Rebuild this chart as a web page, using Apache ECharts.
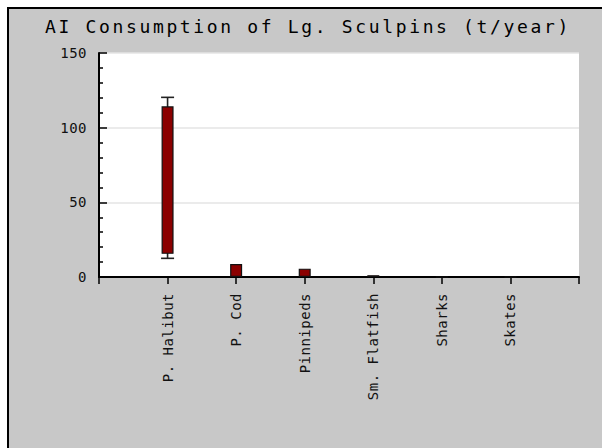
<!DOCTYPE html>
<html>
<head>
<meta charset="utf-8">
<script src="https://cdn.jsdelivr.net/npm/echarts@6/dist/echarts.min.js"></script>
<style>
html,body{margin:0;padding:0;background:#fff;}
#c{width:602px;height:448px;}
</style>
</head>
<body>
<div id="c"></div>
<script>
var titleText = 'AI Consumption of Lg. Sculpins (t/year)';
var categories = ['', 'P. Halibut', 'P. Cod', 'Pinnipeds', 'Sm. Flatfish', 'Sharks', 'Skates', ''];
var boxLow = [null, 15.5, 0, 0, 0, 0, 0, null];
var boxHigh = [null, 114.3, 8.7, 5.6, 1.2, 0, 0, null];
var whiskerLow = [null, 12.5, null, null, null, null, null, null];
var whiskerHigh = [null, 120.3, null, null, null, null, null, null];
var yTicks = [0, 50, 100, 150];

var boxSize = boxHigh.map(function (h, i) { return h == null ? null : +(h - boxLow[i]).toFixed(2); });
var whiskerData = whiskerLow.map(function (l, i) { return [i, l, whiskerHigh[i]]; }).filter(function (d) { return d[1] != null; });

var chart = echarts.init(document.getElementById('c'), null, {renderer: 'svg'});
var FONT = 'DejaVu Sans Mono';
chart.setOption({
  animation: false,
  backgroundColor: '#ffffff',
  graphic: [{
    type: 'rect', z: -100, silent: true,
    shape: {x: 8, y: 8, width: 640, height: 480},
    style: {fill: '#c8c8c8', stroke: '#000', lineWidth: 2}
  }],
  title: {
    text: titleText, left: 40, top: 12,
    textStyle: {fontFamily: FONT, fontSize: 18, fontWeight: 'normal', color: '#000'}
  },
  grid: {left: 99, right: 23, top: 53, bottom: 171, show: true, backgroundColor: '#fff', borderWidth: 0},
  xAxis: {
    type: 'category', data: categories, boundaryGap: false,
    axisLine: {lineStyle: {color: '#000', width: 2}},
    axisTick: {show: true, length: 7, interval: 0, lineStyle: {color: '#000', width: 1.5}},
    axisLabel: {interval: 0, rotate: 90, margin: 16, fontFamily: FONT, fontSize: 14, color: '#111'},
    splitLine: {show: false}
  },
  yAxis: {
    type: 'value', min: yTicks[0], max: yTicks[yTicks.length - 1], interval: 50,
    axisLine: {show: true, lineStyle: {color: '#000', width: 2}},
    axisTick: {show: true, inside: true, length: 8, lineStyle: {color: '#000', width: 1.5}},
    minorTick: {show: true, splitNumber: 5, length: 4, lineStyle: {color: '#000', width: 1.5}},
    axisLabel: {margin: 12, fontFamily: FONT, fontSize: 14, color: '#111'},
    splitLine: {show: true, lineStyle: {color: '#e4e4e4', width: 1.5}}
  },
  series: [
    {
      type: 'custom', z: 1,
      renderItem: function (params, api) {
        var x = api.value(0);
        var lo = api.coord([x, api.value(1)]);
        var hi = api.coord([x, api.value(2)]);
        var hw = 6.5;
        var st = {stroke: '#222', lineWidth: 1.6, fill: null};
        return {type: 'group', children: [
          {type: 'line', shape: {x1: lo[0], y1: lo[1], x2: hi[0], y2: hi[1]}, style: st},
          {type: 'line', shape: {x1: lo[0] - hw, y1: lo[1], x2: lo[0] + hw, y2: lo[1]}, style: st},
          {type: 'line', shape: {x1: hi[0] - hw, y1: hi[1], x2: hi[0] + hw, y2: hi[1]}, style: st}
        ]};
      },
      encode: {x: 0, y: [1, 2]},
      data: whiskerData
    },
    {
      type: 'bar', stack: 'box', z: 2, barWidth: 12,
      itemStyle: {color: 'rgba(0,0,0,0)', borderWidth: 0},
      data: boxLow
    },
    {
      type: 'bar', stack: 'box', z: 3, barWidth: 12,
      itemStyle: {color: '#8b0000', borderColor: '#111', borderWidth: 1.2},
      data: boxSize
    }
  ]
});
function spacing() {
  var ts = document.querySelectorAll('#c text');
  ts.forEach(function (t) {
    var fs = parseFloat(getComputedStyle(t).fontSize);
    if (fs >= 16) t.style.letterSpacing = '2.65px';
    else t.style.letterSpacing = '0.5px';
  });
}
chart.on('finished', spacing);
spacing();
</script>
</body>
</html>
